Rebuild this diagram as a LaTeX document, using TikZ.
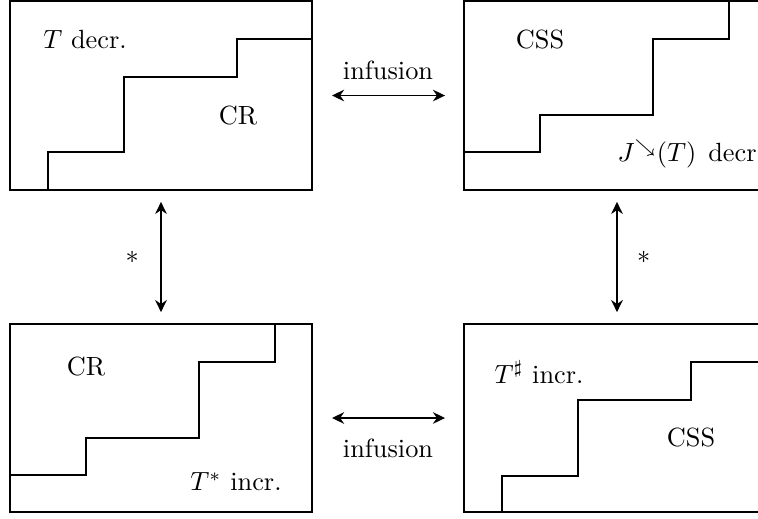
\documentclass[tikz,border=0pt]{standalone}
\usetikzlibrary{arrows.meta}
\begin{document}
\begin{tikzpicture}[x=0.38pt,y=-0.38pt,
  box/.style={draw,line width=0.8pt,inner sep=0pt,outer sep=0pt,minimum width=302*0.38pt},
  stair/.style={line width=0.8pt},
  arr/.style={line width=0.7pt,{Stealth[length=4.6pt,width=4.4pt,inset=1.5pt]}-{Stealth[length=4.6pt,width=4.4pt,inset=1.5pt]}},
  lab/.style={inner sep=0pt}]
\useasboundingbox (0,0) rectangle (758,518);
\clip (0,0) rectangle (758,518);
\node[box,minimum height=189*0.38pt] (tl) at (161,95.5) {};
\node[box,minimum height=189*0.38pt] (tr) at (615,95.5) {};
\node[box,minimum height=188*0.38pt] (bl) at (161,418) {};
\node[box,minimum height=188*0.38pt] (br) at (615,418) {};
% staircases
\draw[stair] (48,190) -- (48,152) -- (124,152) -- (124,77) -- (237,77) -- (237,39) -- (312,39);
\draw[stair] (464,152) -- (540,152) -- (540,115) -- (653,115) -- (653,39) -- (729,39) -- (729,1);
\draw[stair] (10,475) -- (86,475) -- (86,438) -- (199,438) -- (199,362) -- (275,362) -- (275,324);
\draw[stair] (502,512) -- (502,476) -- (578,476) -- (578,400) -- (691,400) -- (691,362) -- (766,362);
% texts
\node[lab] (t1) at (85,40) {$T$ decr.};
\node[lab] (t2) at (238,116) {CR};
\node[lab] (t3) at (540,40) {CSS};
\node[lab,anchor=west] (t4) at (617,154) {$J^{\searrow}(T)$\hspace{1.2pt} decr.};
\node[lab] (t5) at (86,367) {CR};
\node[lab] (t6) at (236,482) {$T^*$ incr.};
\node[lab] (t7) at (539,372) {$T^\sharp$ incr.};
\node[lab] (t8) at (691,438) {CSS};
% arrows
\draw[arr,shorten <=7.6pt,shorten >=7.2pt] (tl.east) -- (tr.west) node[midway,above=2.4pt] {infusion};
\draw[arr,shorten <=7.6pt,shorten >=7.2pt] (bl.east) -- (br.west) node[midway,below=4.2pt] {infusion};
\draw[arr,shorten <=4.5pt,shorten >=4.5pt] (tl.south) -- (bl.north) node[midway,left=4.8pt] {$*$};
\draw[arr,shorten <=4.5pt,shorten >=4.5pt] ([xshift=0.76pt]tr.south) -- ([xshift=0.76pt]br.north) node[midway,right=4pt] {$*$};
\end{tikzpicture}
\end{document}
